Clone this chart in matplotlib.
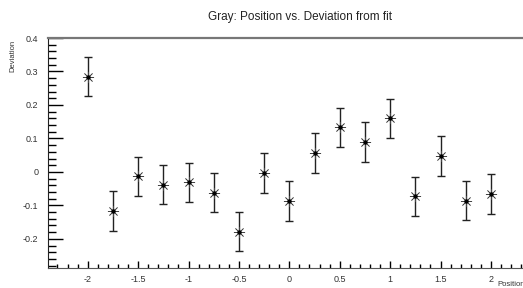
import numpy as np
import matplotlib.pyplot as plt
from matplotlib.ticker import MultipleLocator

plt.rcParams['font.family'] = ['Liberation Sans', 'DejaVu Sans']

position = [-2.0, -1.75, -1.5, -1.25, -1.0, -0.75, -0.5, -0.25, 0.0,
            0.25, 0.5, 0.75, 1.0, 1.25, 1.5, 1.75, 2.0]
deviation = [0.285, -0.116, -0.013, -0.038, -0.031, -0.062, -0.178, -0.003, -0.087,
             0.057, 0.133, 0.089, 0.160, -0.073, 0.048, -0.086, -0.066]
dev_err = [0.059] * len(position)

fig = plt.figure(figsize=(5.23, 2.88), dpi=100)
ax = fig.add_axes([48/523, 1-268/288, 1-48/523, 230/288])

ax.errorbar(position, deviation, yerr=dev_err, fmt='none', ecolor='#222222',
            elinewidth=1.0, capsize=3, capthick=1.0)
ax.plot(position, deviation, ls='none', marker=(8, 2, 0), ms=8, mec='#444444', mew=0.5)
ax.plot(position, deviation, ls='none', marker='o', ms=2.2, color='black')

ax.set_xlim(-2.394, 2.318)
ax.set_ylim(-0.287, 0.4)

ax.spines['right'].set_visible(False)
ax.spines['top'].set_color('#777777')
ax.spines['top'].set_linewidth(1.6)
ax.spines['bottom'].set_color('#555555')
ax.spines['left'].set_color('#222222')

ax.xaxis.set_major_locator(MultipleLocator(0.5))
ax.xaxis.set_minor_locator(MultipleLocator(0.1))
ax.yaxis.set_major_locator(MultipleLocator(0.1))
ax.yaxis.set_minor_locator(MultipleLocator(0.02))
ax.tick_params(axis='both', which='both', direction='in', labelsize=6.5, labelcolor='#333333')
ax.tick_params(axis='y', which='major', length=11, width=1, pad=7)
ax.tick_params(axis='y', which='minor', length=6, width=1)
ax.tick_params(axis='x', which='major', length=5, width=1, pad=5)
ax.tick_params(axis='x', which='minor', length=3, width=1)
ax.yaxis.set_major_formatter(lambda v, p: '0' if abs(v) < 1e-9 else ('%g' % v))
ax.xaxis.set_major_formatter(lambda v, p: '0' if abs(v) < 1e-9 else ('%g' % v))

fig.text(300/523, 1-17/288, 'Gray: Position vs. Deviation from fit', ha='center', va='center',
         fontsize=8.5, color='#222222')
fig.text(13/523, 1-40/288, 'Deviation', rotation=90, ha='center', va='top', fontsize=5.5,
         color='#333333')
fig.text(497/523, 1-285/288, 'Position', ha='left', va='center', fontsize=5.5, color='#333333')

fig.savefig('out.png', dpi=100)
